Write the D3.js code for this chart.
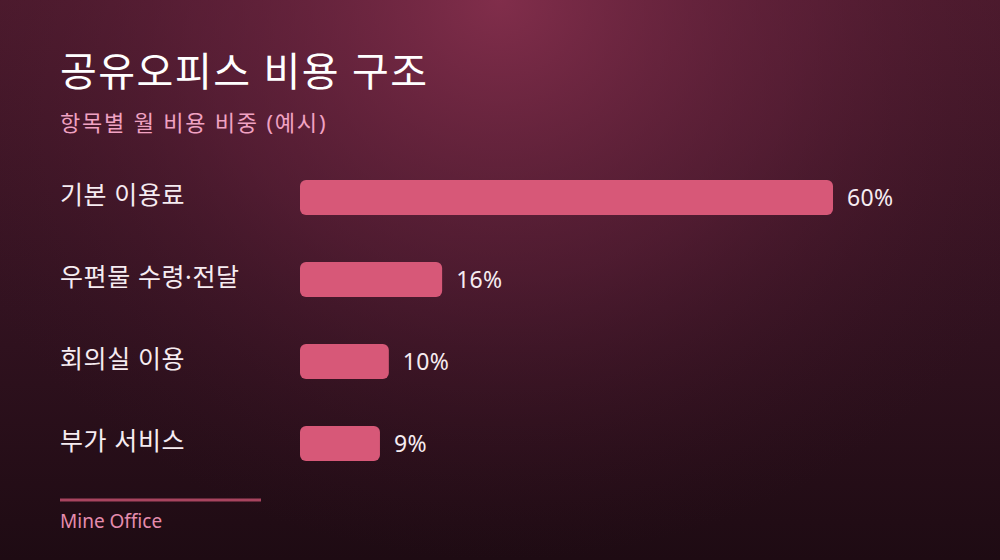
<!DOCTYPE html>
<html>
<head>
<meta charset="utf-8">
<script src="https://cdn.jsdelivr.net/npm/d3@7"></script>
<style>
  html, body { margin: 0; padding: 0; background: #1f0c14; }
  svg { display: block; }
  text { font-family: "Noto Sans", "Noto Sans CJK KR", sans-serif; }
</style>
</head>
<body>
<svg id="chart" width="1000" height="560"></svg>
<script>
// data
var categories = ['기본 이용료', '우편물 수령·전달', '회의실 이용', '부가 서비스'];
var shares = [60, 16, 10, 9];
var title = '공유오피스 비용 구조';
var subtitle = '항목별 월 비용 비중 (예시)';
var source = 'Mine Office';

var W = 1000, H = 560;
var svg = d3.select('#chart');

// background
var defs = svg.append('defs');
var lin = defs.append('linearGradient').attr('id', 'bgLin')
  .attr('x1', 0).attr('y1', 0).attr('x2', 0).attr('y2', 1);
lin.append('stop').attr('offset', '0%').attr('stop-color', '#4c1a2d');
lin.append('stop').attr('offset', '55%').attr('stop-color', '#321220');
lin.append('stop').attr('offset', '100%').attr('stop-color', '#1e0b13');

var rad = defs.append('radialGradient').attr('id', 'bgRad')
  .attr('gradientUnits', 'userSpaceOnUse')
  .attr('cx', 500).attr('cy', 0).attr('r', 560)
  .attr('gradientTransform', 'translate(500,0) scale(1.1,1) translate(-500,0)');
rad.append('stop').attr('offset', '0%').attr('stop-color', '#8a3150').attr('stop-opacity', 0.85);
rad.append('stop').attr('offset', '50%').attr('stop-color', '#6a2440').attr('stop-opacity', 0.45);
rad.append('stop').attr('offset', '100%').attr('stop-color', '#3a1424').attr('stop-opacity', 0);

svg.append('rect').attr('width', W).attr('height', H).attr('fill', 'url(#bgLin)');
svg.append('rect').attr('width', W).attr('height', H).attr('fill', 'url(#bgRad)');

// titles
svg.append('text').attr('x', 60).attr('y', 86)
  .attr('fill', '#ffffff').attr('font-size', 40).attr('letter-spacing', 1.5)
  .text(title);
svg.append('text').attr('x', 60).attr('y', 131)
  .attr('fill', '#f0a2c2').attr('font-size', 22).attr('letter-spacing', 1.8)
  .text(subtitle);

// scales
var x = d3.scaleLinear().domain([0, 60]).range([300, 833]);
var y = d3.scaleBand().domain(categories).range([180, 461]).paddingInner(0.573).paddingOuter(0);

var rows = svg.append('g').selectAll('g')
  .data(categories.map(function(c, i) { return {name: c, value: shares[i]}; }))
  .enter().append('g');

rows.append('rect')
  .attr('x', x(0))
  .attr('y', function(d) { return y(d.name); })
  .attr('width', function(d) { return x(d.value) - x(0); })
  .attr('height', y.bandwidth())
  .attr('rx', 6)
  .attr('fill', '#d75878');

rows.append('text')
  .attr('x', 60)
  .attr('y', function(d) { return y(d.name) + y.bandwidth() / 2; })
  .attr('dy', '0.25em')
  .attr('fill', '#f6ecf1')
  .attr('font-size', 25).attr('letter-spacing', 0.6)
  .text(function(d) { return d.name; });

rows.append('text')
  .attr('x', function(d) { return x(d.value) + 14; })
  .attr('y', function(d) { return y(d.name) + y.bandwidth() / 2; })
  .attr('dy', '0.36em')
  .attr('fill', '#f6ecf1')
  .attr('font-size', 23).attr('letter-spacing', 0.3)
  .text(function(d) { return d.value + '%'; });

// footer
svg.append('line').attr('x1', 60).attr('x2', 261).attr('y1', 500).attr('y2', 500)
  .attr('stroke', '#a8445f').attr('stroke-width', 3);
svg.append('text').attr('x', 60).attr('y', 528)
  .attr('fill', '#e58cae').attr('font-size', 19)
  .text(source);
</script>
</body>
</html>
